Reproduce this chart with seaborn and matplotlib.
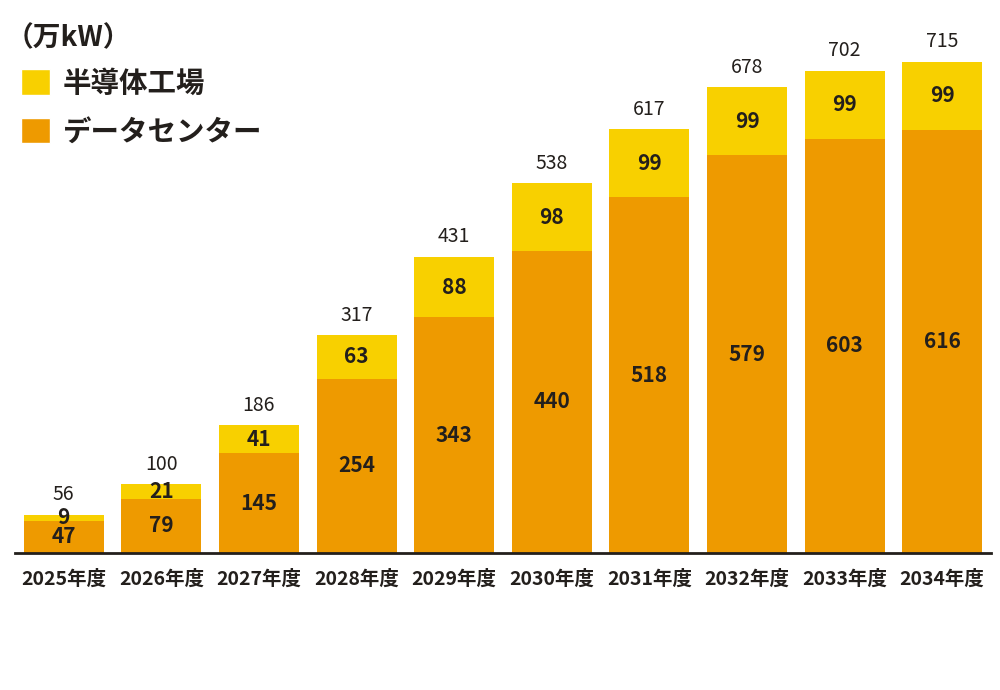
import numpy as np
import pandas as pd
import matplotlib
matplotlib.use('Agg')
import matplotlib.pyplot as plt
from matplotlib.patches import Patch
import seaborn as sns

years = ['2025年度', '2026年度', '2027年度', '2028年度', '2029年度',
         '2030年度', '2031年度', '2032年度', '2033年度', '2034年度']
datacenter = [47, 79, 145, 254, 343, 440, 518, 579, 603, 616]
semicon = [9, 21, 41, 63, 88, 98, 99, 99, 99, 99]
totals = [56, 100, 186, 317, 431, 538, 617, 678, 702, 715]

yellow = '#F8D000'
orange = '#EE9A00'
ink = '#231F1C'

sns.set_theme(style='white')
plt.rcParams['font.family'] = ['Noto Sans CJK JP', 'DejaVu Sans']

df = pd.DataFrame({'year': years, 'dc': datacenter, 'semi': semicon})

fig = plt.figure(figsize=(10, 6.9), dpi=100)
ax = fig.add_axes([0.015, 1 - 553 / 690, 0.976, (553 - 20) / 690])

sns.barplot(data=df, x='year', y='dc', color=orange, width=0.82,
            saturation=1, linewidth=0, ax=ax)
sns.barplot(data=df, x='year', y='semi', bottom=df['dc'], color=yellow,
            width=0.82, saturation=1, linewidth=0, ax=ax)

for i in range(len(years)):
    ax.text(i, datacenter[i] / 2, str(datacenter[i]), ha='center', va='center',
            fontsize=15, fontweight='bold', color=ink)
    ax.text(i, datacenter[i] + semicon[i] / 2, str(semicon[i]), ha='center',
            va='center', fontsize=15, fontweight='bold', color=ink)
    ax.text(i, totals[i] + 14, str(totals[i]), ha='center', va='bottom',
            fontsize=14, color=ink)

ax.set_xlim(-0.5, 9.5)
ax.set_ylim(0, 776)
ax.set_xlabel('')
ax.set_ylabel('')
ax.set_yticks([])
for s in ['top', 'right', 'left']:
    ax.spines[s].set_visible(False)
ax.spines['bottom'].set_color(ink)
ax.spines['bottom'].set_linewidth(2)
ax.tick_params(axis='x', length=0, pad=12, labelsize=14, labelcolor=ink)
for lab in ax.get_xticklabels():
    lab.set_fontweight('bold')

fig.text(0.006, 1 - 38 / 690, '（万kW）', fontsize=20, fontweight='bold',
         color=ink, va='center', ha='left')
handles = [Patch(facecolor=yellow, label='半導体工場'),
           Patch(facecolor=orange, label='データセンター')]
fig.legend(handles=handles, loc='upper left', bbox_to_anchor=(0.010, 1 - 58 / 690),
           frameon=False, handlelength=1.0, handleheight=1.0,
           handletextpad=0.45, labelspacing=0.7, borderaxespad=0,
           prop={'weight': 'bold', 'size': 20.5})
for t in fig.legends[0].get_texts():
    t.set_color(ink)

fig.savefig('out.png', dpi=100, facecolor='white')
